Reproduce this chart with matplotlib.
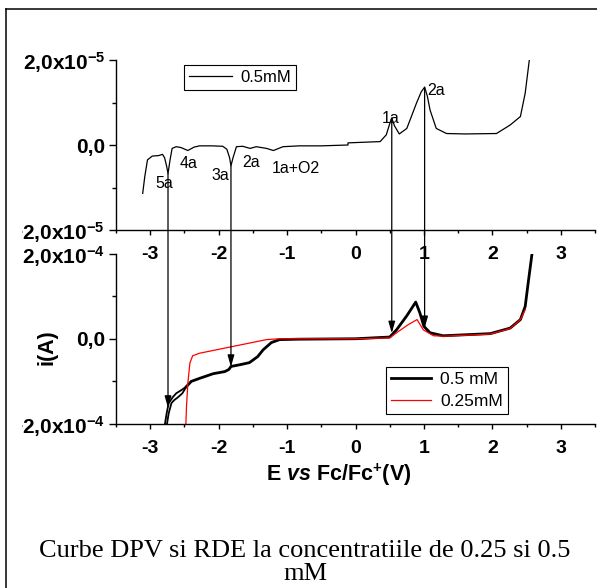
import matplotlib
matplotlib.use("Agg")
import matplotlib.pyplot as plt
import numpy as np
from matplotlib.lines import Line2D
from matplotlib.patches import ConnectionPatch
from matplotlib.ticker import MultipleLocator
from matplotlib.transforms import Bbox, TransformedBbox

plt.rcParams["font.family"] = ["Liberation Sans", "DejaVu Sans"]
plt.rcParams["mathtext.fontset"] = "custom"
plt.rcParams["mathtext.rm"] = "Liberation Sans"
plt.rcParams["mathtext.bf"] = "Liberation Sans:bold"
plt.rcParams["mathtext.it"] = "Liberation Sans:italic:bold"
plt.rcParams["mathtext.default"] = "bf"

# DPV scan, 0.5 mM (current in units of 1e-5 A)
dpv_e = [-3.11, -3.08, -3.04, -2.97, -2.88, -2.82, -2.79, -2.76, -2.74, -2.71,
         -2.68, -2.62, -2.55, -2.45, -2.36, -2.28, -2.10, -1.94, -1.88, -1.84,
         -1.82, -1.79, -1.74, -1.65, -1.54, -1.45, -1.30, -1.20, -1.06, -0.82,
         -0.50, -0.11, -0.11, 0.20, 0.36, 0.45, 0.50, 0.53, 0.57, 0.64,
         0.75, 0.89, 0.96, 1.01, 1.05, 1.09, 1.18, 1.33, 1.60, 2.06,
         2.26, 2.41, 2.48, 2.54]
dpv_i = [-1.14, -0.75, -0.35, -0.26, -0.25, -0.22, -0.30, -0.50, -0.67, -0.35,
         -0.08, -0.04, -0.06, -0.13, -0.05, -0.02, -0.02, -0.03, -0.10, -0.30,
         -0.49, -0.30, -0.04, -0.03, -0.08, -0.04, -0.08, -0.13, -0.04, -0.02,
         -0.02, 0.00, 0.05, 0.07, 0.08, 0.24, 0.50, 0.63, 0.45, 0.26,
         0.39, 0.98, 1.25, 1.36, 1.15, 0.82, 0.39, 0.27, 0.26, 0.27,
         0.47, 0.67, 1.22, 2.00]

peak_labels = ["5a", "4a", "3a", "2a", "1a+O2", "1a", "2a"]
peak_e = [-2.79, -2.44, -1.98, -1.52, -0.87, 0.52, 1.18]
peak_i = [-0.90, -0.43, -0.72, -0.41, -0.55, 0.63, 1.28]

# RDE, 0.5 mM (current in units of 1e-4 A); two short branches near the cathodic limit
rde05_e = [-2.47, -2.40, -2.28, -2.08, -1.91, -1.85, -1.82, -1.69, -1.55, -1.43,
           -1.35, -1.23, -1.11, -0.82, 0.00, 0.50, 0.60, 0.75, 0.88, 0.94,
           1.00, 1.09, 1.28, 1.97, 2.26, 2.41, 2.48, 2.53, 2.58]
rde05_i = [-1.12, -1.00, -0.93, -0.82, -0.77, -0.72, -0.65, -0.61, -0.56, -0.42,
           -0.26, -0.09, -0.02, -0.01, 0.00, 0.04, 0.21, 0.54, 0.86, 0.61,
           0.29, 0.14, 0.07, 0.12, 0.25, 0.45, 0.76, 1.39, 2.00]
rde05_a_e = [-2.79, -2.76, -2.73, -2.67, -2.62, -2.54, -2.47]
rde05_a_i = [-2.05, -1.75, -1.51, -1.37, -1.28, -1.20, -1.12]
rde05_b_e = [-2.76, -2.73, -2.69, -2.65, -2.60, -2.53, -2.47]
rde05_b_i = [-2.05, -1.75, -1.51, -1.44, -1.38, -1.28, -1.12]

# RDE, 0.25 mM (1e-4 A)
rde025_e = [-2.48, -2.47, -2.45, -2.42, -2.38, -2.28, -1.79, -1.30, -1.11, -0.50,
            0.00, 0.50, 0.60, 0.77, 0.90, 0.99, 1.14, 1.30, 1.97, 2.26,
            2.41, 2.48]
rde025_i = [-2.05, -1.60, -1.04, -0.57, -0.40, -0.34, -0.18, -0.02, 0.00, 0.00,
            0.00, 0.02, 0.14, 0.33, 0.45, 0.21, 0.07, 0.06, 0.11, 0.24,
            0.45, 0.68]

# arrows linking DPV peaks to RDE waves: potential, DPV current (1e-5), RDE current (1e-4)
arrow_e = [-2.74, -1.82, 0.53, 1.01]
arrow_top = [-0.67, -0.49, 0.63, 1.36]
arrow_bot = [-1.62, -0.66, 0.13, 0.25]

x_ticks = [-3, -2, -1, 0, 1, 2, 3]
x_labels = ["-3", "-2", "-1", "0", "1", "2", "3"]
top_ylabels = ["\u22122,0x10$^{-5}$", "0,0", "2,0x10$^{-5}$"]
bot_ylabels = ["\u22122,0x10$^{-4}$", "0,0", "2,0x10$^{-4}$"]

W, H = 597, 588
fig = plt.figure(figsize=(W / 100, H / 100), dpi=100)
ax_top = fig.add_axes([116 / W, 1 - 230 / H, 479 / W, 170 / H])
ax_bot = fig.add_axes([116 / W, 1 - 424 / H, 479 / W, 170.5 / H])
ax_top.patch.set_visible(False)
ax_bot.patch.set_visible(False)

label_clip = TransformedBbox(Bbox.from_extents(22 / W, 0, 1, 1), fig.transFigure)


def style_axes(ax, ymax, ylabels, xpad):
    for side in ("top", "right"):
        ax.spines[side].set_visible(False)
    for side in ("left", "bottom"):
        ax.spines[side].set_linewidth(1.0)
    ax.set_xlim(-3.5, 3.5)
    ax.set_ylim(-ymax, ymax)
    ax.set_xticks(x_ticks)
    ax.set_xticklabels(x_labels, fontsize=14, fontweight="bold")
    ax.xaxis.set_minor_locator(MultipleLocator(0.5))
    ax.set_yticks([-ymax, 0, ymax])
    ax.set_yticklabels(ylabels, fontsize=15, fontweight="bold")
    ax.set_yticks([-ymax / 2, ymax / 2], minor=True)
    ax.tick_params(axis="x", which="major", direction="out", length=3.6, width=1.0, pad=xpad)
    ax.tick_params(axis="x", which="minor", direction="out", length=2.4, width=1.0)
    ax.tick_params(axis="y", which="major", direction="out", length=5, width=1.0, pad=3)
    ax.tick_params(axis="y", which="minor", direction="out", length=2.6, width=1.0)
    for lab in ax.get_yticklabels():
        lab.set_clip_box(label_clip)
        lab.set_clip_on(True)


style_axes(ax_top, 2e-5, top_ylabels, 8)
style_axes(ax_bot, 2e-4, bot_ylabels, 8)

# DPV panel
(dpv_line,) = ax_top.plot(dpv_e, np.array(dpv_i) * 1e-5, color="black", lw=0.9)
for s, e, v in zip(peak_labels, peak_e, peak_i):
    ax_top.text(e, v * 1e-5, s, ha="center", va="center", fontsize=11.5)
leg = ax_top.legend([dpv_line], ["0.5mM"], loc="upper left", bbox_to_anchor=(0.142, 0.97),
                    fontsize=12, fancybox=False, edgecolor="black", framealpha=1,
                    handlelength=2.6, borderpad=0.3, handletextpad=0.5, borderaxespad=0)
leg.get_frame().set_linewidth(0.8)

# RDE panel
(l05,) = ax_bot.plot(rde05_e, np.array(rde05_i) * 1e-4, color="black", lw=2.0)
ax_bot.plot(rde05_a_e, np.array(rde05_a_i) * 1e-4, color="black", lw=1.3)
ax_bot.plot(rde05_b_e, np.array(rde05_b_i) * 1e-4, color="black", lw=1.3)
(l025,) = ax_bot.plot(rde025_e, np.array(rde025_i) * 1e-4, color="red", lw=0.9)
leg2 = ax_bot.legend([l05, l025], ["0.5 mM", "0.25mM"], loc="upper left",
                     bbox_to_anchor=(0.564, 0.334), fontsize=12.5, fancybox=False,
                     edgecolor="black", framealpha=1, handlelength=2.3, borderpad=0.3,
                     labelspacing=0.35, handletextpad=0.5, borderaxespad=0)
leg2.get_frame().set_linewidth(0.8)

for e, a, b in zip(arrow_e, arrow_top, arrow_bot):
    con = ConnectionPatch(xyA=(e, a * 1e-5), coordsA=ax_top.transData,
                          xyB=(e, b * 1e-4), coordsB=ax_bot.transData,
                          arrowstyle="-|>,head_length=0.7,head_width=0.2",
                          mutation_scale=10, lw=0.9, color="black",
                          shrinkA=0, shrinkB=0)
    fig.add_artist(con)

fig.text(339 / W, 1 - 481 / H, "E $\\mathit{vs}$ Fc/Fc$^{+}$(V)", ha="center", va="baseline",
         fontsize=15.5, fontweight="bold")
fig.text(47 / W, 1 - 347 / H, "i(A)", ha="center", va="center", rotation=90,
         fontsize=15.5, fontweight="bold")

fig.text(305 / W, 1 - 557 / H, "Curbe DPV si RDE la concentratiile de 0.25 si 0.5",
         ha="center", va="baseline", family="Liberation Serif", fontsize=19)
fig.text(305 / W, 1 - 580 / H, "mM", ha="center", va="baseline",
         family="Liberation Serif", fontsize=19)

# page frame
fig.add_artist(Line2D([6 / W, 6 / W], [0, 1 - 9 / H], transform=fig.transFigure,
                      color="black", lw=1.1))
fig.add_artist(Line2D([6 / W, 1], [1 - 9 / H, 1 - 9 / H], transform=fig.transFigure,
                      color="black", lw=1.1))

fig.savefig("out.png", dpi=100)
